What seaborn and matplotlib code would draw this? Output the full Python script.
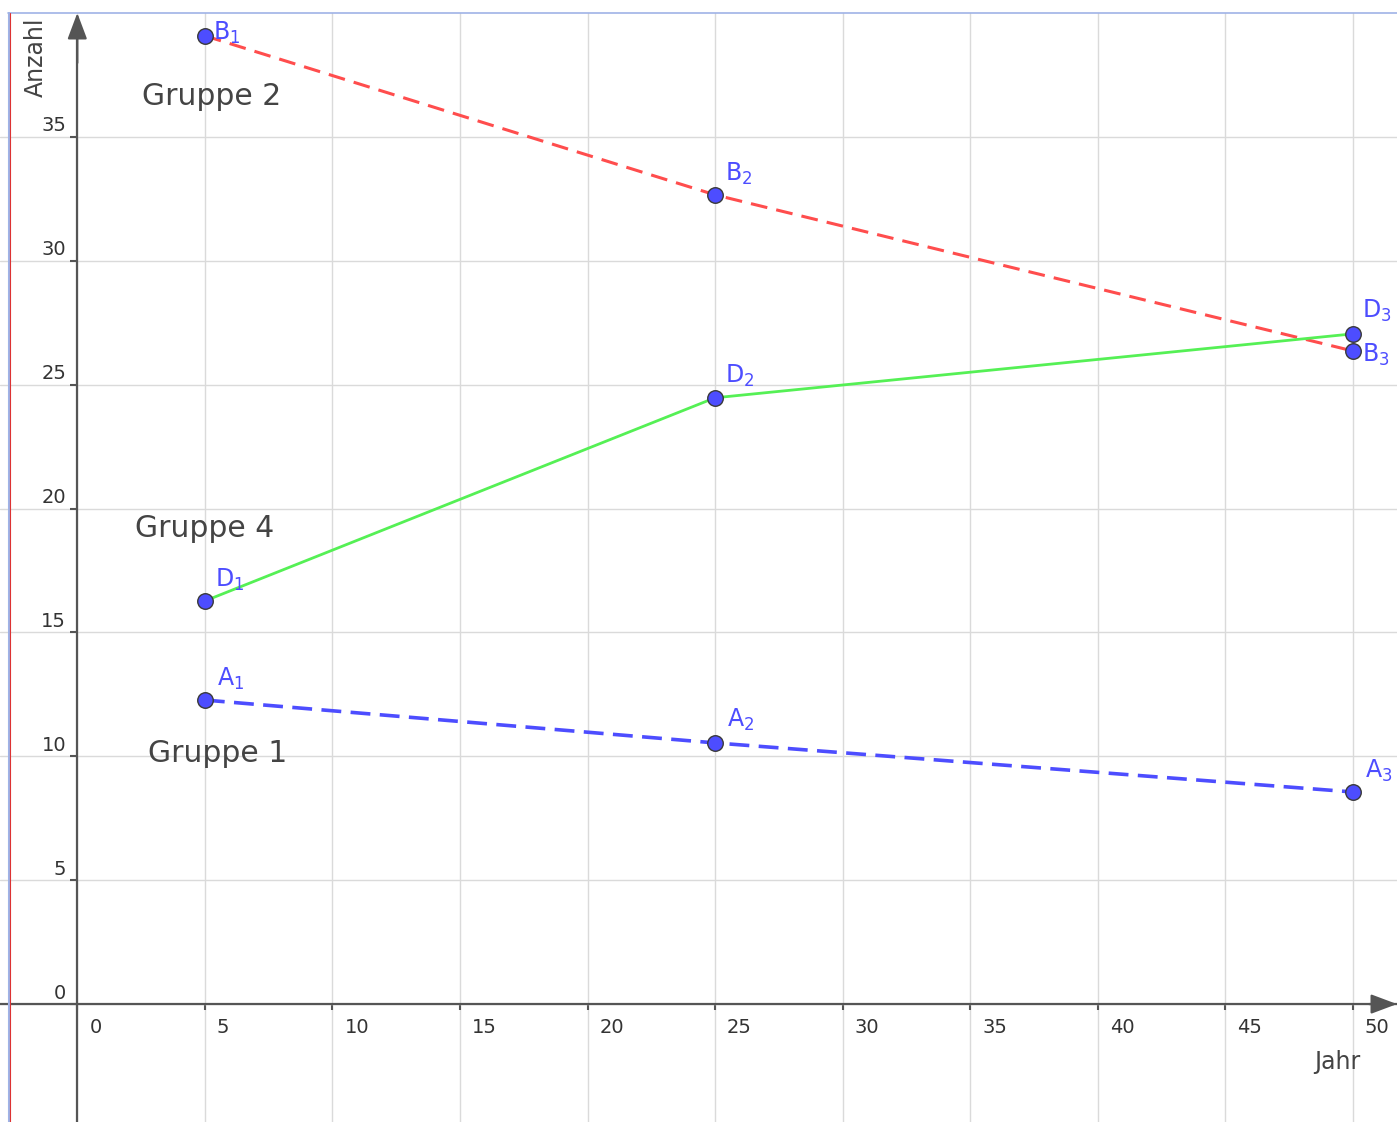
import matplotlib.pyplot as plt
import matplotlib.transforms as mtransforms
from matplotlib.lines import Line2D
import numpy as np
import pandas as pd
import seaborn as sns

#%% Values
years = [5, 25, 50]
gruppe_1 = [12.27, 10.54, 8.56]   # points A1..A3
gruppe_2 = [39.08, 32.66, 26.36]  # points B1..B3
gruppe_4 = [16.27, 24.47, 27.05]  # points D1..D3
group_names = ['Gruppe 1', 'Gruppe 2', 'Gruppe 4']
point_letters = ['A', 'B', 'D']
x_ticks = np.arange(0, 55, 5)
y_ticks = np.arange(0, 40, 5)

data = pd.DataFrame({
    'Jahr': years * 3,
    'Anzahl': gruppe_1 + gruppe_2 + gruppe_4,
    'Gruppe': [g for g in group_names for _ in years],
    'Punkt': [p for p in point_letters for _ in years],
    'Index': [1, 2, 3] * 3,
})

#%% Styling
palette = {'Gruppe 1': '#4d4dff', 'Gruppe 2': '#ff4d4d', 'Gruppe 4': '#55f055'}
dashes = {'Gruppe 1': (5.5, 2.6), 'Gruppe 2': (5.5, 3), 'Gruppe 4': ''}
widths = {'Gruppe 1': 2.6, 'Gruppe 2': 2.2, 'Gruppe 4': 2.0}
# label offsets in pixels (right, up) relative to each point
label_offsets = {
    'A': [(12, 14), (12, 16), (12, 14)],
    'B': [(8, -4), (10, 14), (9, -11)],
    'D': [(10, 14), (10, 15), (9, 16)],
}
# where the group names sit (data coords, left/baseline)
group_text_pos = {'Gruppe 2': (2.53, 36.3), 'Gruppe 4': (2.26, 18.85), 'Gruppe 1': (2.77, 9.77)}
axis_col = '#555555'

sns.set_style("whitegrid")
plt.rcParams['font.family'] = ['DejaVu Sans']

fig = plt.figure(figsize=(13.97, 11.22), dpi=100)
top = 1 - 13 / 1122  # top edge of the drawing view
ax = fig.add_axes([0, 0, 1, top])

# lines
sns.lineplot(data=data, x='Jahr', y='Anzahl', hue='Gruppe', style='Gruppe',
             palette=palette, dashes=dashes, legend=False, ax=ax, zorder=3)
for line, g in zip(ax.lines, group_names):
    line.set_linewidth(widths[g])

# points
sns.scatterplot(data=data, x='Jahr', y='Anzahl', color='#4d4dff', s=125,
                edgecolor='#3a3a3a', linewidth=1, legend=False, ax=ax, zorder=5,
                clip_on=False)

# point labels
for _, row in data.iterrows():
    dx, dy = label_offsets[row['Punkt']][row['Index'] - 1]
    ax.annotate(f"{row['Punkt']}$_{row['Index']}$", (row['Jahr'], row['Anzahl']),
                xytext=(dx * 0.72, dy * 0.72), textcoords='offset points',
                ha='left', va='baseline', fontsize=17, color='#4d4dff', zorder=6)

# group names
for g, (gx, gy) in group_text_pos.items():
    ax.text(gx, gy, g, fontsize=21.5, color='#444444', ha='left', va='baseline')

#%% Axes
ax.set_xlim(-3.03, 51.73)
ax.set_ylim(-4.76, 40.0)
ax.set_xticks(x_ticks)
ax.set_yticks(y_ticks)
ax.grid(color='#dadada', linewidth=1)
ax.set_axisbelow(True)

for s in ['top', 'right']:
    ax.spines[s].set_visible(False)
for s in ['left', 'bottom']:
    ax.spines[s].set_position(('data', 0))
    ax.spines[s].set_color(axis_col)
    ax.spines[s].set_linewidth(1.6)
ax.spines['left'].set_bounds(-4.76, 39.5)

ax.tick_params(axis='x', bottom=True, length=4, width=1.5, color=axis_col,
               direction='out', pad=6, labelsize=14, labelcolor='#333333')
ax.tick_params(axis='y', left=True, length=5, width=1.5, color=axis_col,
               direction='out', pad=3, labelsize=14, labelcolor='#333333')

for lab in ax.get_xticklabels():
    lab.set_ha('left')
    lab.set_transform(lab.get_transform() + mtransforms.ScaledTranslation(0.12, 0, fig.dpi_scale_trans))
for lab in ax.get_yticklabels():
    lab.set_transform(lab.get_transform() + mtransforms.ScaledTranslation(0, 0.13, fig.dpi_scale_trans))

ax.set_xlabel('Jahr', fontsize=17, color='#444444')
ax.xaxis.set_label_coords(0.957, 0.0650)
ax.set_ylabel('Anzahl', fontsize=17, color='#444444')
ax.yaxis.set_label_coords(0.0344, 0.960)

# axis arrows
arrow = dict(arrowstyle='-|>,head_length=0.8,head_width=0.3', color=axis_col,
             lw=1.6, mutation_scale=20, shrinkA=0, shrinkB=0)
ax.annotate('', xy=(0, 1.0), xytext=(0, 0.955), xycoords=('data', 'axes fraction'),
            textcoords=('data', 'axes fraction'), arrowprops=arrow, zorder=4)
ax.annotate('', xy=(1.0, 0), xytext=(0.98, 0), xycoords=('axes fraction', 'data'),
            textcoords=('axes fraction', 'data'), arrowprops=arrow, zorder=4)

# view frame
fig.add_artist(Line2D([8 / 1397, 1], [top, top], transform=fig.transFigure, color='#9fb3e6', lw=1.2))
fig.add_artist(Line2D([8.5 / 1397] * 2, [0, top], transform=fig.transFigure, color='#9fb3e6', lw=1.5))
fig.add_artist(Line2D([10 / 1397] * 2, [0, top], transform=fig.transFigure, color='#dd3333', lw=0.8))

fig.savefig('out.png', dpi=100)
